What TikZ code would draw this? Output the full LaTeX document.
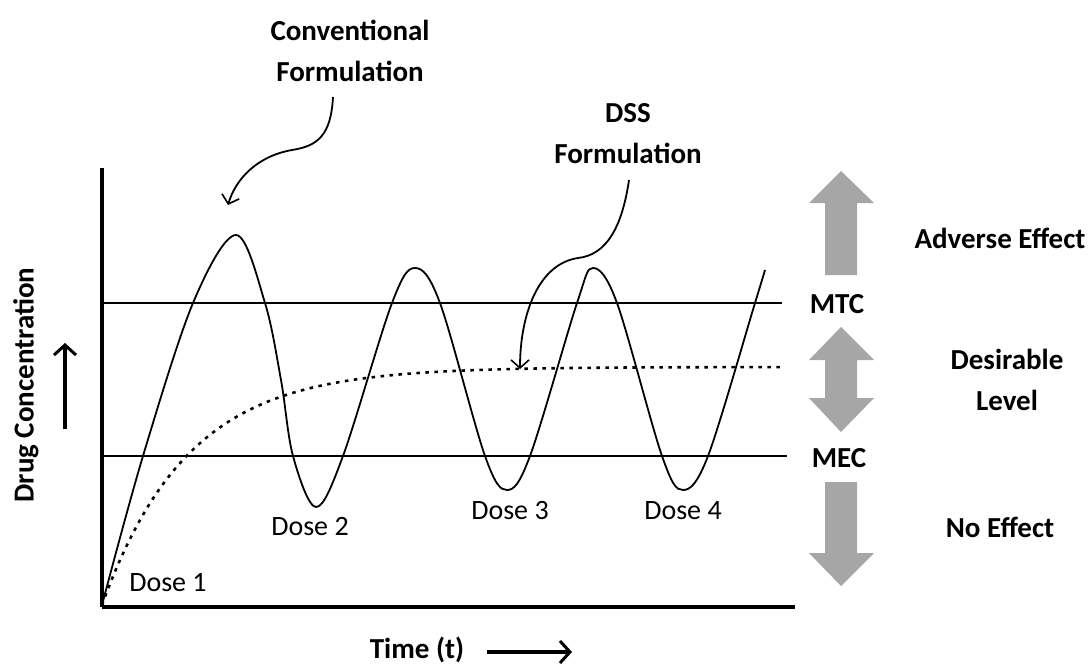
\documentclass[tikz,border=0pt]{standalone}
\usepackage{fontspec}
\setmainfont{Carlito}
\usetikzlibrary{arrows.meta}
\definecolor{garrow}{RGB}{166,166,166}
\tikzset{
  lbl/.style={font=\bfseries\fontsize{29}{41}\selectfont, inner sep=0pt, align=center},
  dose/.style={font=\fontsize{28}{32}\selectfont, inner sep=0pt},
  refline/.style={line width=1.8pt},
  curve/.style={line width=1.8pt},
  callout/.style={line width=1.8pt, -{Straight Barb[length=8pt,width=18pt,line width=1.6pt]}},
  axisarrow/.style={line width=3.4pt, -{Straight Barb[length=10pt,width=22pt,line width=3pt]}},
  bigarrow/.style={fill=garrow, draw=none}
}
\begin{document}
\begin{tikzpicture}[x=1pt,y=-1pt]
\useasboundingbox (0,0) rectangle (1090,666);
% axes
\coordinate (O) at (102,607);
\coordinate (ytop) at (102,168);
\coordinate (xend) at (795,607);
\draw[line width=3.3pt] (ytop) -- (O);
\draw[line width=4pt] (O) -- (xend);
% MTC / MEC lines
\coordinate (mtcL) at (102,303);
\coordinate (mtcR) at (782,303);
\coordinate (mecL) at (102,456);
\coordinate (mecR) at (787,456);
\draw[refline] (mtcL) -- (mtcR);
\draw[line width=2.6pt] (mecL) -- (mecR);
% conventional formulation curve
\draw[curve] plot[smooth, tension=0.55] coordinates {
 (102,605) (143,456) (193,303) (236,235) (265,303) (281,380) (293,456) (316,507)
 (343,456) (392,303) (415,268) (440,303) (485,456) (507,490) (530,456) (577,303)
 (593,268) (617,303) (662,456) (683,490) (708,456) (755,303) (765,270)};
% DSS curve
\draw[line width=2.6pt, dash pattern=on 3.5pt off 5.5pt]
  plot[domain=102:785, samples=120, smooth] (\x, {605-238*(1-exp(-(\x-102)/86))});
% labels top
\node[lbl] (conv) at (350,51) {Conventional\\Formulation};
\node[lbl] (dss) at (628,134) {DSS\\Formulation};
\coordinate (convS) at (333,97);
\coordinate (convT) at (228,205);
\coordinate (dssS) at (629,180);
\coordinate (dssT) at (520,369);
\draw[callout] (convS) .. controls (331,135) and (318,146) .. (292,150)
  .. controls (258,156) and (236,178) .. (convT);
\draw[callout] (dssS) .. controls (622,228) and (606,255) .. (578,258)
  .. controls (538,264) and (520,315) .. (dssT);
% gray arrows
\fill[bigarrow] (841,171) -- (874,203) -- (857,203) -- (857,275) -- (825,275) -- (825,203) -- (809,203) -- cycle;
\fill[bigarrow] (841,327) -- (874,360) -- (857,360) -- (857,398) -- (874,398) -- (841,432)
  -- (809,398) -- (825,398) -- (825,360) -- (809,360) -- cycle;
\fill[bigarrow] (825,482) -- (857,482) -- (857,553) -- (874,553) -- (841,586) -- (809,553) -- (825,553) -- cycle;
% right labels
\node[lbl] (mtc) at (837,304) {MTC};
\node[lbl] (mec) at (839,458) {MEC};
\node[lbl] (adv) at (1000,238) {Adverse Effect};
\node[lbl] (des) at (1007,380) {Desirable\\Level};
\node[lbl] (noe) at (1000,527) {No Effect};
% dose labels
\node[dose] (d1) at (168,583) {Dose 1};
\node[dose] (d2) at (310,527) {Dose 2};
\node[dose] (d3) at (510,511) {Dose 3};
\node[dose] (d4) at (683,511) {Dose 4};
% axis labels
\node[lbl, rotate=90] (ylab) at (26,385) {Drug Concentration};
\coordinate (yaS) at (65,429);
\coordinate (yaT) at (65,343);
\draw[axisarrow] (yaS) -- (yaT);
\node[lbl] (tlab) at (417,650) {Time (t)};
\coordinate (taS) at (487,652);
\coordinate (taT) at (572,652);
\draw[axisarrow] (taS) -- (taT);
\end{tikzpicture}
\end{document}
